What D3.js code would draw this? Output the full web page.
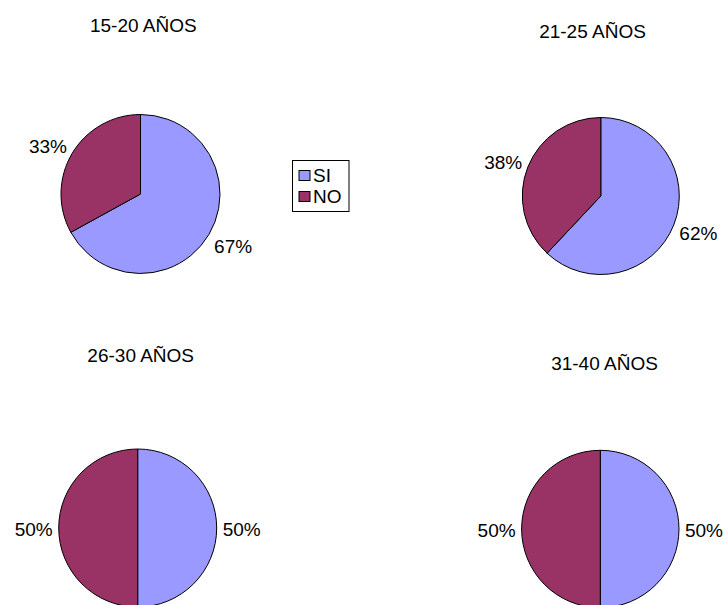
<!DOCTYPE html>
<html>
<head>
<meta charset="utf-8">
<script src="https://cdn.jsdelivr.net/npm/d3@7"></script>
<style>
  html, body { margin: 0; padding: 0; background: #fff; }
  svg { display: block; font-family: "Liberation Sans", Arial, Helvetica, sans-serif; }
</style>
</head>
<body>
<svg id="chart" width="726" height="605"></svg>
<script>
// Age groups and the share (%) answering SI / NO in each
const ageGroups = ["15-20 AÑOS", "21-25 AÑOS", "26-30 AÑOS", "31-40 AÑOS"];
const siValues = [67, 62, 50, 50];
const noValues = [33, 38, 50, 50];
const seriesNames = ["SI", "NO"];

// Panel layout: pie centre, radius and title position
const panels = [
  { cx: 140.5, cy: 194, r: 79.5, tx: 143.3, ty: 31.5 },
  { cx: 600.8, cy: 196, r: 78.5, tx: 592.5, ty: 38 },
  { cx: 137.7, cy: 528, r: 79,   tx: 140.7, ty: 362 },
  { cx: 600.3, cy: 529, r: 78.7, tx: 604.5, ty: 370 }
];

const color = d3.scaleOrdinal().domain(seriesNames).range(["#9999FF", "#993366"]);
const svg = d3.select("#chart");
const fontSize = 19;

const pie = d3.pie()
  .value(d => d.value)
  .sort(null)
  .startAngle(0)
  .endAngle(2 * Math.PI);

ageGroups.forEach((title, i) => {
  const p = panels[i];
  const rows = [
    { name: seriesNames[0], value: siValues[i] },
    { name: seriesNames[1], value: noValues[i] }
  ];
  const arcs = pie(rows);
  const arc = d3.arc().innerRadius(0).outerRadius(p.r);

  svg.append("text")
    .attr("x", p.tx).attr("y", p.ty)
    .attr("text-anchor", "middle")
    .attr("font-size", fontSize)
    .attr("fill", "#000")
    .text(title);

  const g = svg.append("g").attr("transform", `translate(${p.cx},${p.cy})`);

  g.selectAll("path")
    .data(arcs)
    .join("path")
    .attr("d", arc)
    .attr("fill", d => color(d.data.name))
    .attr("stroke", "#000")
    .attr("stroke-width", 1)
    .attr("stroke-linejoin", "round");

  // Percent labels sit just outside the rim at each slice's mid-angle
  g.selectAll("text.pct")
    .data(arcs)
    .join("text")
    .attr("class", "pct")
    .each(function (d) {
      const a = (d.startAngle + d.endAngle) / 2;
      const s = Math.sin(a), c = -Math.cos(a);
      const rr = p.r + 6;
      const x = rr * s;
      let y = rr * c + (fontSize / 2) * c + 1;
      if (c > 0) y += 6 * c;
      d3.select(this)
        .attr("x", x)
        .attr("y", y)
        .attr("dy", "0.35em")
        .attr("text-anchor", s > 0.05 ? "start" : (s < -0.05 ? "end" : "middle"));
    })
    .attr("font-size", fontSize)
    .attr("fill", "#000")
    .text(d => d.data.value + "%");
});

// Legend
const legend = svg.append("g");
legend.append("rect")
  .attr("x", 292.5).attr("y", 160.5)
  .attr("width", 56.5).attr("height", 51)
  .attr("fill", "#fff")
  .attr("stroke", "#000")
  .attr("stroke-width", 1);

const items = legend.selectAll("g.item")
  .data(seriesNames)
  .join("g")
  .attr("class", "item")
  .attr("transform", (d, i) => `translate(299,${170.5 + i * 21})`);

items.append("rect")
  .attr("width", 11).attr("height", 10)
  .attr("fill", d => color(d))
  .attr("stroke", "#000")
  .attr("stroke-width", 1);

items.append("text")
  .attr("x", 14).attr("y", 11)
  .attr("font-size", fontSize)
  .attr("fill", "#000")
  .text(d => d);
</script>
</body>
</html>
